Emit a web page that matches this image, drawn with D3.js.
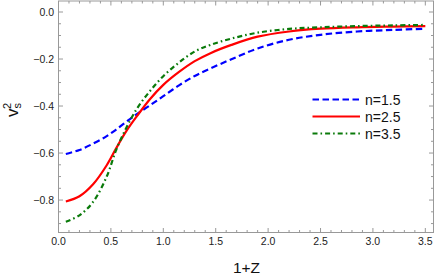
<!DOCTYPE html>
<html>
<head>
<meta charset="utf-8">
<script src="https://cdn.jsdelivr.net/npm/d3@7"></script>
<style>
  body { margin: 0; background: #fff; }
  svg { display: block; font-family: "Liberation Sans", Arial, sans-serif; }
</style>
</head>
<body>
<svg id="chart" width="436" height="277"></svg>
<script>
// values
var zs = [0.07, 0.2, 0.33, 0.46, 0.55, 0.65, 0.75, 0.87, 1.0, 1.15, 1.3, 1.45, 1.65, 1.9, 2.2, 2.5, 2.85, 3.2, 3.5];
var n15 = [-0.604, -0.587, -0.560, -0.528, -0.500, -0.466, -0.433, -0.398, -0.358, -0.312, -0.272, -0.240, -0.201, -0.155, -0.118, -0.097, -0.083, -0.076, -0.071];
var n25 = [-0.806, -0.784, -0.733, -0.652, -0.580, -0.505, -0.442, -0.372, -0.310, -0.255, -0.209, -0.175, -0.140, -0.105, -0.083, -0.071, -0.065, -0.062, -0.060];
var n35 = [-0.892, -0.865, -0.808, -0.700, -0.587, -0.490, -0.410, -0.338, -0.273, -0.215, -0.168, -0.140, -0.113, -0.088, -0.072, -0.065, -0.060, -0.057, -0.055];
var seriesNames = ["n=1.5", "n=2.5", "n=3.5"];
var xMajor = [0, 0.5, 1, 1.5, 2, 2.5, 3, 3.5];
var yMajor = [0, -0.2, -0.4, -0.6, -0.8];

var svg = d3.select("#chart");
var pLeft = 58.5, pRight = 433.5, pTop = 1, pBottom = 232.5;

var x = d3.scaleLinear().domain([0, 3.578]).range([pLeft, pRight]);
var y = d3.scaleLinear().domain([-0.938, 0.0468]).range([pBottom, pTop]);

var series = [
  { name: seriesNames[0], vals: n15, color: "#0000ff", dash: "6.5,3.5" },
  { name: seriesNames[1], vals: n25, color: "#ff0000", dash: null },
  { name: seriesNames[2], vals: n35, color: "#0a7a0a", dash: "5,3,1.6,3" }
];

// frame
svg.append("rect")
  .attr("x", pLeft).attr("y", pTop)
  .attr("width", pRight - pLeft).attr("height", pBottom - pTop)
  .attr("fill", "none").attr("stroke", "#999").attr("stroke-width", 1);

var xMinor = d3.range(0, 3.56, 0.1).filter(function(v) { return Math.abs(v * 2 - Math.round(v * 2)) > 1e-6; });
var yMinor = d3.range(-0.9, 0.04, 0.05).filter(function(v) { return Math.abs(v * 5 - Math.round(v * 5)) > 1e-6; });

var tk = svg.append("g").attr("stroke", "#999").attr("stroke-width", 1);
function xTick(v, len) {
  tk.append("line").attr("x1", x(v)).attr("x2", x(v)).attr("y1", pBottom).attr("y2", pBottom - len);
  tk.append("line").attr("x1", x(v)).attr("x2", x(v)).attr("y1", pTop).attr("y2", pTop + len);
}
function yTick(v, len) {
  tk.append("line").attr("y1", y(v)).attr("y2", y(v)).attr("x1", pLeft).attr("x2", pLeft + len);
  tk.append("line").attr("y1", y(v)).attr("y2", y(v)).attr("x1", pRight).attr("x2", pRight - len);
}
xMajor.forEach(function(v) { xTick(v, 4.5); });
xMinor.forEach(function(v) { xTick(v, 2.5); });
yMajor.forEach(function(v) { yTick(v, 4.5); });
yMinor.forEach(function(v) { yTick(v, 2.5); });

svg.append("g").selectAll("text").data(xMajor).enter().append("text")
  .attr("x", function(d) { return x(d); })
  .attr("y", pBottom + 12.5)
  .attr("text-anchor", "middle")
  .attr("font-size", 10.5)
  .attr("fill", "#222")
  .text(function(d) { return d3.format(".1f")(d); });

svg.append("g").selectAll("text").data(yMajor).enter().append("text")
  .attr("x", pLeft - 4.5)
  .attr("y", function(d) { return y(d) + 3.8; })
  .attr("text-anchor", "end")
  .attr("font-size", 10.5)
  .attr("fill", "#222")
  .text(function(d) { return d3.format(".1f")(d).replace("-", "\u2212"); });

// axis titles
svg.append("text")
  .attr("x", 246.5).attr("y", 272.5)
  .attr("text-anchor", "middle")
  .attr("font-size", 15.5)
  .attr("fill", "#111")
  .text("1+Z");

var yl = svg.append("text")
  .attr("transform", "translate(18.3,110) rotate(-90)")
  .attr("text-anchor", "middle")
  .attr("font-size", 17)
  .attr("fill", "#111");
yl.append("tspan").text("v");
yl.append("tspan").attr("font-size", 11).attr("dy", 3).text("s");
yl.append("tspan").attr("font-size", 11).attr("dx", -6).attr("dy", -10).text("2");

// curves
var line = d3.line()
  .x(function(d) { return x(d[0]); })
  .y(function(d) { return y(d[1]); })
  .curve(d3.curveCatmullRom.alpha(0.5));

svg.append("g").selectAll("path").data(series).enter().append("path")
  .attr("d", function(s) { return line(zs.map(function(z, i) { return [z, s.vals[i]]; })); })
  .attr("fill", "none")
  .attr("stroke", function(s) { return s.color; })
  .attr("stroke-width", 2.2)
  .attr("stroke-dasharray", function(s) { return s.dash; });

// legend
var leg = svg.append("g");
series.forEach(function(s, i) {
  var ly = 99.5 + i * 17;
  leg.append("line")
    .attr("x1", 312.5).attr("x2", 360)
    .attr("y1", ly).attr("y2", ly)
    .attr("stroke", s.color).attr("stroke-width", 2.2)
    .attr("stroke-dasharray", s.dash);
  leg.append("text")
    .attr("x", 365).attr("y", ly + 5)
    .attr("font-size", 14)
    .attr("fill", "#111")
    .text(s.name);
});
</script>
</body>
</html>
